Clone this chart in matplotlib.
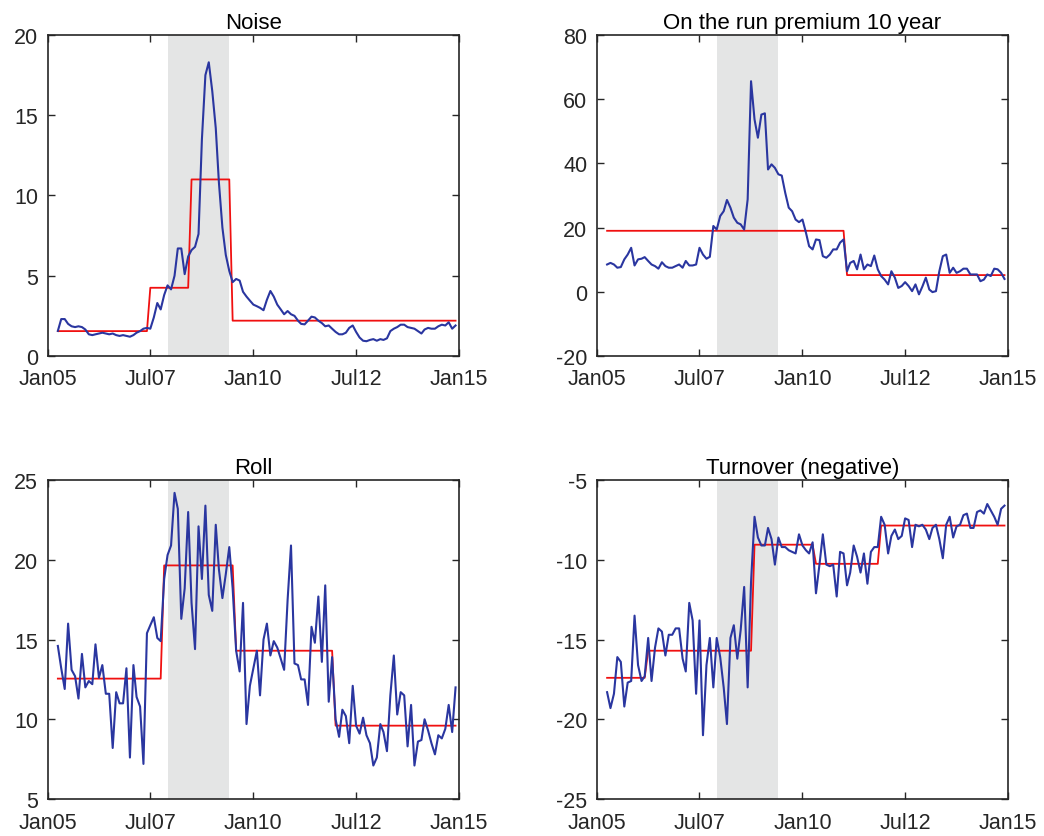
import numpy as np
import pandas as pd
import matplotlib
matplotlib.use("Agg")
import matplotlib.pyplot as plt

plt.rcParams['font.family'] = ['Liberation Sans', 'DejaVu Sans']
plt.rcParams['axes.unicode_minus'] = False

# monthly observations, Apr 2005 - Dec 2014
dates = pd.date_range("2005-04-01", periods=117, freq="MS")

noise = [1.56, 2.3, 2.3, 2.0, 1.85, 1.8, 1.85, 1.8, 1.65, 1.35, 1.3, 1.35,
         1.4, 1.45, 1.4, 1.35, 1.4, 1.3, 1.25, 1.3, 1.25, 1.2, 1.3, 1.45,
         1.55, 1.7, 1.75, 1.7, 2.4, 3.3, 2.9, 3.8, 4.4, 4.15, 5.0, 6.7,
         6.7, 5.1, 6.2, 6.6, 6.8, 7.6, 13.5, 17.5, 18.3, 16.5, 14.2, 10.8,
         8.0, 6.3, 5.3, 4.6, 4.8, 4.7, 4.0, 3.7, 3.45, 3.2, 3.1, 3.0,
         2.85, 3.5, 4.05, 3.7, 3.2, 2.9, 2.6, 2.8, 2.6, 2.5, 2.2, 2.0,
         1.97, 2.2, 2.45, 2.4, 2.2, 2.05, 1.85, 1.9, 1.7, 1.5, 1.35, 1.35,
         1.45, 1.75, 1.9, 1.5, 1.15, 0.95, 0.92, 1.0, 1.05, 0.95, 1.05, 1.0,
         1.1, 1.55, 1.7, 1.8, 1.95, 1.95, 1.8, 1.75, 1.7, 1.55, 1.4, 1.65,
         1.75, 1.7, 1.7, 1.85, 1.95, 1.9, 2.1, 1.7, 1.9]

premium = [8.5, 9.0, 8.5, 7.5, 7.7, 10.1, 11.6, 13.7, 8.2, 10.1, 10.3, 10.8,
           9.6, 8.5, 8.0, 7.2, 9.2, 8.0, 7.5, 7.5, 8.0, 8.5, 7.5, 9.6,
           8.2, 8.2, 8.5, 13.7, 11.6, 10.3, 10.9, 20.5, 19.4, 23.6, 25.1, 28.6,
           26.2, 23.1, 21.5, 21.0, 19.4, 28.8, 65.6, 53.7, 48.0, 55.2, 55.6, 38.1,
           39.7, 38.6, 36.6, 36.2, 30.8, 26.2, 25.1, 22.5, 21.7, 22.5, 18.4, 14.2,
           13.2, 16.3, 16.1, 11.1, 10.6, 11.6, 13.2, 13.2, 15.3, 16.3, 6.4, 9.0,
           9.6, 7.0, 11.6, 7.0, 8.5, 8.0, 11.3, 7.0, 4.9, 3.8, 2.3, 6.4,
           4.4, 1.2, 1.8, 3.0, 1.8, 0.2, 2.3, -0.8, 1.6, 4.4, 0.7, -0.1,
           0.2, 6.4, 11.1, 11.6, 5.9, 7.5, 5.9, 6.4, 7.2, 7.2, 5.4, 5.4,
           5.4, 3.3, 3.8, 5.4, 4.9, 7.2, 7.0, 5.9, 4.0]

roll = [14.6, 13.2, 11.9, 16.0, 13.1, 12.7, 11.3, 14.1, 12.0, 12.4, 12.2, 14.7,
        12.6, 13.4, 11.6, 11.6, 8.2, 11.7, 11.0, 11.0, 13.2, 7.6, 13.4, 11.4,
        10.8, 7.2, 15.4, 15.9, 16.4, 15.1, 14.9, 18.8, 20.3, 20.9, 24.2, 23.2,
        16.3, 18.2, 23.0, 17.3, 14.4, 22.1, 18.8, 23.4, 17.8, 16.8, 22.2, 19.4,
        17.6, 19.1, 20.8, 18.2, 14.3, 13.0, 17.3, 9.7, 12.1, 13.2, 14.3, 11.5,
        15.0, 16.0, 14.0, 14.9, 14.5, 13.8, 13.1, 17.5, 20.9, 13.5, 13.4, 12.5,
        12.5, 10.9, 15.8, 14.8, 17.7, 13.6, 18.4, 11.1, 13.9, 10.0, 8.9, 10.6,
        10.2, 8.5, 12.1, 9.6, 9.1, 10.1, 9.0, 8.5, 7.1, 7.6, 9.7, 9.2,
        8.0, 11.5, 14.0, 10.3, 11.7, 11.5, 8.3, 10.9, 7.1, 8.6, 8.7, 10.0,
        9.3, 8.5, 7.8, 9.0, 8.8, 9.4, 10.9, 9.2, 12.0]

turnover = [-18.3, -19.3, -18.4, -16.1, -16.4, -19.2, -17.7, -17.6, -13.5, -16.6, -17.6, -17.3,
            -14.9, -17.6, -15.5, -14.3, -14.5, -16.0, -14.7, -14.7, -14.3, -14.3, -16.2, -17.0,
            -12.7, -13.8, -18.4, -13.8, -21.0, -16.6, -14.9, -18.0, -14.9, -16.1, -18.0, -20.3,
            -14.9, -14.1, -16.2, -14.4, -11.7, -18.0, -11.4, -7.3, -8.6, -9.1, -9.1, -8.0,
            -8.7, -10.3, -8.6, -9.2, -9.2, -9.4, -9.5, -9.6, -8.4, -9.1, -9.4, -9.6,
            -8.9, -12.1, -10.3, -8.4, -10.3, -10.4, -10.3, -12.3, -9.5, -9.6, -11.6, -10.8,
            -9.1, -9.8, -10.8, -9.6, -11.5, -9.5, -9.2, -9.2, -7.3, -7.8, -9.6, -8.5,
            -8.1, -8.7, -8.5, -7.4, -7.5, -9.2, -7.8, -7.9, -7.8, -8.1, -8.7, -8.0,
            -7.8, -8.7, -9.9, -7.8, -7.3, -8.6, -7.9, -7.8, -7.2, -7.1, -8.0, -8.0,
            -7.0, -6.9, -7.1, -6.5, -6.9, -7.3, -7.8, -6.8, -6.6]

# regime means (start month, level)
noise_reg_start = ["2005-04", "2007-07", "2008-07", "2009-07"]
noise_reg_level = [1.55, 4.25, 11.0, 2.2]
premium_reg_start = ["2005-04", "2011-02"]
premium_reg_level = [19.0, 5.2]
roll_reg_start = ["2005-04", "2007-11", "2009-08", "2012-01"]
roll_reg_level = [12.55, 19.65, 14.3, 9.6]
turnover_reg_start = ["2005-04", "2006-04", "2008-11", "2010-05", "2011-12"]
turnover_reg_level = [-17.4, -15.7, -9.05, -10.25, -7.85]

recession = ("2007-12-01", "2009-06-01")

titles = ["Noise", "On the run premium 10 year", "Roll", "Turnover (negative)"]
ylims = [(0, 20), (-20, 80), (5, 25), (-25, -5)]
ysteps = [5, 20, 5, 5]

xtick_dates = pd.to_datetime(["2005-01-01", "2007-07-01", "2010-01-01", "2012-07-01", "2015-01-01"])
xtick_labels = ["Jan05", "Jul07", "Jan10", "Jul12", "Jan15"]


def regime_line(starts, levels):
    s = pd.Series(np.nan, index=dates)
    for st, lv in zip(starts, levels):
        s[s.index >= pd.Timestamp(st)] = lv
    return s.values


series = [noise, premium, roll, turnover]
regimes = [(noise_reg_start, noise_reg_level), (premium_reg_start, premium_reg_level),
           (roll_reg_start, roll_reg_level), (turnover_reg_start, turnover_reg_level)]

fig = plt.figure(figsize=(10.44, 8.37), dpi=100)
positions = [[0.0457, 0.5735, 0.394, 0.3835], [0.5718, 0.5735, 0.3937, 0.3835],
             [0.0457, 0.0442, 0.394, 0.381], [0.5718, 0.0442, 0.3937, 0.381]]

blue = "#2a36a0"
red = "#f01010"
axcol = "#262626"

for i in range(4):
    ax = fig.add_axes(positions[i])
    ax.axvspan(pd.Timestamp(recession[0]), pd.Timestamp(recession[1]), color="#e4e5e5", lw=0, zorder=0)
    ax.plot(dates, series[i], color=blue, lw=1.5, zorder=3)
    ax.plot(dates, regime_line(*regimes[i]), color=red, lw=1.3, zorder=2)
    ax.set_xlim(pd.Timestamp("2005-01-01"), pd.Timestamp("2015-01-01"))
    ax.set_ylim(*ylims[i])
    ax.set_yticks(np.arange(ylims[i][0], ylims[i][1] + 0.1, ysteps[i]))
    ax.set_xticks(xtick_dates)
    ax.set_xticklabels(xtick_labels)
    ax.set_title(titles[i], fontsize=16, pad=5)
    ax.tick_params(direction="in", top=True, right=True, length=5, width=1,
                   labelsize=15.5, colors=axcol)
    ax.tick_params(axis="x", pad=9)
    ax.tick_params(axis="y", pad=7)
    for sp in ax.spines.values():
        sp.set_color(axcol)
        sp.set_linewidth(1.2)

plt.savefig("out.png", dpi=100)
